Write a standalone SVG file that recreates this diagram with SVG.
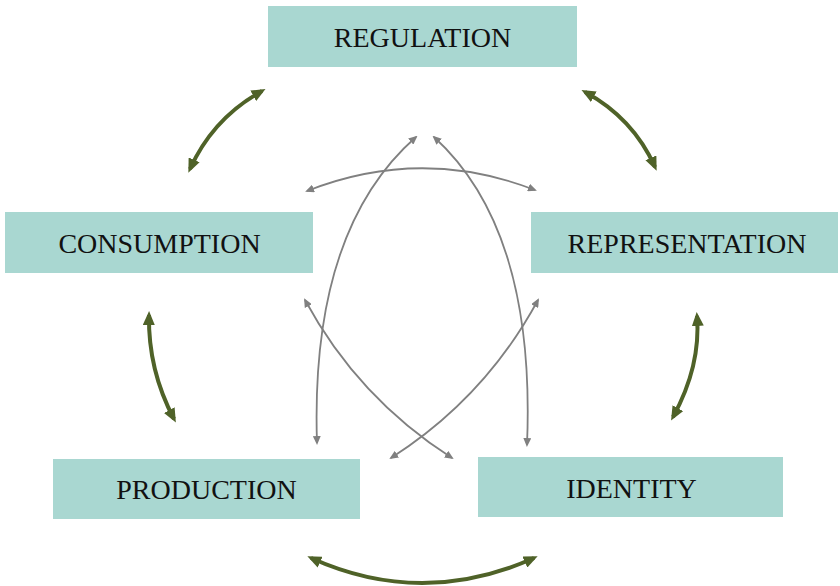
<svg xmlns="http://www.w3.org/2000/svg" width="840" height="586" viewBox="0 0 840 586">
<style>
.box{fill:#a9d7d1}
.lbl{font-family:"Liberation Serif","Times New Roman",serif;font-size:28px;fill:#111;text-anchor:middle}
.g{fill:none;stroke:#4f6228;stroke-width:4}
.k{fill:none;stroke:#808080;stroke-width:1.8}
</style>
<defs>
<marker id="ag" viewBox="0 0 14 12" markerWidth="14" markerHeight="12" refX="10" refY="6" orient="auto-start-reverse" markerUnits="userSpaceOnUse">
<path d="M0,0 L14,6 L0,12 z" fill="#4f6228"/>
</marker>
<marker id="ak" viewBox="0 0 9 8" markerWidth="9" markerHeight="8" refX="7" refY="4" orient="auto-start-reverse" markerUnits="userSpaceOnUse">
<path d="M0,0 L9,4 L0,8 z" fill="#808080"/>
</marker>
</defs>
<g id="connectors">
<path class="g" d="M190,169 Q213,118 262,91" marker-start="url(#ag)" marker-end="url(#ag)"/>
<path class="g" d="M585,92 Q633,118 655,167" marker-start="url(#ag)" marker-end="url(#ag)"/>
<path class="g" d="M149,315 Q148,370 174,419" marker-start="url(#ag)" marker-end="url(#ag)"/>
<path class="g" d="M697,316 Q701,366 673,417" marker-start="url(#ag)" marker-end="url(#ag)"/>
<path class="g" d="M311,558 Q422,608 534,558" marker-start="url(#ag)" marker-end="url(#ag)"/>
<path class="k" d="M307,191 Q421,146 535,190" marker-start="url(#ak)" marker-end="url(#ak)"/>
<path class="k" d="M317,443 Q310,230 416,137" marker-start="url(#ak)" marker-end="url(#ak)"/>
<path class="k" d="M527,445 Q536,230 434,137" marker-start="url(#ak)" marker-end="url(#ak)"/>
<path class="k" d="M305,300 Q358,398 452,458" marker-start="url(#ak)" marker-end="url(#ak)"/>
<path class="k" d="M538,300 Q485,398 391,458" marker-start="url(#ak)" marker-end="url(#ak)"/>
</g>
<g id="regulation">
<rect class="box" x="268" y="6" width="309" height="61"/>
<text class="lbl" x="422.5" y="46.5">REGULATION</text>
</g>
<g id="consumption">
<rect class="box" x="5" y="212" width="308" height="61"/>
<text class="lbl" x="159.5" y="253">CONSUMPTION</text>
</g>
<g id="representation">
<rect class="box" x="531" y="212" width="307" height="61"/>
<text class="lbl" x="687" y="253">REPRESENTATION</text>
</g>
<g id="production">
<rect class="box" x="53" y="459" width="307" height="60"/>
<text class="lbl" x="206.5" y="499">PRODUCTION</text>
</g>
<g id="identity">
<rect class="box" x="478" y="457" width="305" height="60"/>
<text class="lbl" x="631.5" y="498">IDENTITY</text>
</g>
</svg>
